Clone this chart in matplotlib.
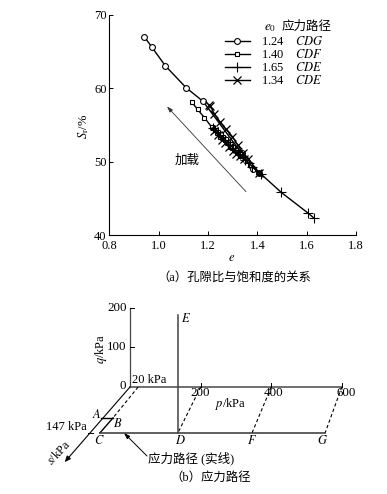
import matplotlib
matplotlib.use("Agg")
import matplotlib.pyplot as plt

plt.rcParams['font.family'] = ['Liberation Serif', 'Noto Sans CJK SC']
plt.rcParams['mathtext.fontset'] = 'stix'
plt.rcParams['axes.linewidth'] = 0.8

W, H = 387, 494

# panel a: void ratio vs saturation
e_cdg = [0.942, 0.972, 1.027, 1.111, 1.18, 1.337, 1.383, 1.407]
s_cdg = [67.0, 65.6, 63.05, 60.07, 58.2, 51.1, 49.0, 48.4]
e_cdf = [1.134, 1.158, 1.185, 1.215, 1.25, 1.29, 1.33, 1.37, 1.407]
s_cdf = [58.1, 57.1, 56.0, 54.7, 53.4, 52.0, 50.8, 49.6, 48.4]
e_165 = [1.63, 1.605, 1.497, 1.415, 1.38, 1.365, 1.35, 1.34, 1.33, 1.32, 1.31, 1.30,
         1.29, 1.28, 1.27, 1.26, 1.25, 1.24, 1.23, 1.22]
s_165 = [42.3, 43.0, 45.8, 48.3, 49.3, 49.8, 50.2, 50.6, 51.0, 51.3, 51.6, 51.9,
         52.3, 52.6, 53.0, 53.3, 53.6, 54.0, 54.3, 54.6]
e_134 = [1.204, 1.21, 1.226, 1.249, 1.273, 1.299, 1.32, 1.343, 1.362, 1.407]
s_134 = [57.7, 57.5, 56.5, 55.4, 54.4, 53.4, 52.3, 51.1, 50.4, 48.5]
e_134b = [1.345, 1.33, 1.315, 1.30, 1.285, 1.27, 1.255, 1.24, 1.225]
s_134b = [50.3, 50.7, 51.0, 51.4, 52.0, 52.5, 53.0, 53.6, 54.2]
e_ticks = [0.8, 1.0, 1.2, 1.4, 1.6, 1.8]
s_ticks = [40, 50, 60, 70]
e_arrow = [1.354, 1.034]
s_arrow = [45.9, 57.5]

# panel b: stress path, p, q, s in kPa
p_ticks = [200, 400, 600]
q_ticks = [100, 200]
s_end = 147
path_p = [28, 28, 28, 249, 459, 666]
path_q = [0, 0, 0, 0, 0, 0]
path_s = [99, 99, 147, 147, 147, 147]
ab_p = [-5, 28]
ab_s = [99, 99]
e_p = 249
e_q = 297


def px(x, y):
    return x / W, 1 - y / H


def label(x, y, s, **kw):
    kw.setdefault('fontsize', 9)
    kw.setdefault('ha', 'center')
    kw.setdefault('va', 'center')
    fig.text(*px(x, y), s, **kw)


def proj(p, q, s):
    return p - 0.771 * s, q - 0.788 * s


fig = plt.figure(figsize=(W / 100, H / 100), dpi=100)

ax = fig.add_axes([109.3 / W, 1 - 235 / H, 246.7 / W, 220.3 / H])
ax.plot(e_cdg, s_cdg, '-o', color='k', lw=1.0, ms=4.2, mfc='white', mew=0.8, label=r'1.24    $\mathit{CDG}$')
ax.plot(e_cdf, s_cdf, '-s', color='k', lw=1.0, ms=3.4, mfc='white', mew=0.8, label=r'1.40    $\mathit{CDF}$')
ax.plot(e_165, s_165, '-+', color='k', lw=1.0, ms=7, mew=0.8, label=r'1.65    $\mathit{CDE}$')
ax.plot(e_134, s_134, '-x', color='k', lw=1.0, ms=5.5, mew=0.9, label=r'1.34    $\mathit{CDE}$')
ax.plot(e_134b, s_134b, 'x', color='k', ms=6, mew=0.9)
ax.set_xlim(0.8, 1.8)
ax.set_ylim(40, 70)
ax.set_xticks(e_ticks, ['%.1f' % v for v in e_ticks])
ax.set_yticks(s_ticks)
ax.tick_params(direction='in', length=3.2, width=0.7, labelsize=9.0)
ax.tick_params(axis='x', pad=3.4)
ax.tick_params(axis='y', pad=2.0)
ax.spines['top'].set_visible(False)
ax.spines['right'].set_visible(False)
ax.annotate('', xy=(e_arrow[1], s_arrow[1]), xytext=(e_arrow[0], s_arrow[0]),
            arrowprops=dict(arrowstyle='-|>,head_length=0.35,head_width=0.12', color='#333333', lw=0.6,
                            shrinkA=0, shrinkB=0))
ax.legend(loc='upper left', bbox_to_anchor=(0.468, 0.907), frameon=False, fontsize=9.0, handlelength=2.0,
          labelspacing=0.0, handletextpad=0.9, borderpad=0, borderaxespad=0)

label(187, 161, '加载', fontsize=9)
label(232, 258, '$e$', fontsize=9)
label(84, 126, r'$S_{\mathrm{r}}$/%', rotation=90, fontsize=9)
label(270, 28, '$e_0$', fontsize=9.4)
label(307, 27, '应力路径', fontsize=9)
label(234, 278, '（a）孔隙比与饱和度的关系', fontsize=8.9)

bx = fig.add_axes([0, 0, 1, 204 / H])
bx.set_xlim(-130 / 0.353, 257 / 0.353)
bx.set_ylim(-107 / 0.397, 97 / 0.397)
bx.axis('off')

# axes of the oblique frame
bx.plot([0, 0], [0, 200], color='#444444', lw=0.9)
for q in q_ticks:
    bx.plot([0, 12], [q, q], color='k', lw=0.7)
bx.plot([0, 600], [0, 0], color='#555555', lw=1.2)
for p in p_ticks:
    bx.plot([p, p], [0, 10], color='k', lw=0.7)

# s axis with arrow head
sx0, sy0 = proj(0, 0, 0)
sx1, sy1 = proj(0, 0, 240)
bx.annotate('', xy=(sx1, sy1), xytext=(sx0, sy0),
            arrowprops=dict(arrowstyle='-|>,head_length=0.35,head_width=0.15', color='k', lw=0.8,
                            shrinkA=0, shrinkB=0))

# dashed lines
xa, ya = proj(23, 0, 0)
xb, yb = proj(28, 0, 99)
bx.plot([xa, xb], [ya, yb], color='k', lw=0.8, ls=(0, (3, 2.2)))
for p, d in zip(p_ticks, [249, 459, 666]):
    xa, ya = proj(p, 0, 0)
    xb, yb = proj(d, 0, 147)
    bx.plot([xa, xb], [ya, yb], color='k', lw=0.8, ls=(0, (3, 2.2)))

xs, ys = zip(*[proj(p, q, s) for p, q, s in zip(path_p, path_q, path_s)])
bx.plot(xs[1:3], ys[1:3], color='k', lw=1.0)
bx.plot(xs[2:], ys[2:], color='#333333', lw=1.1)
xs, ys = zip(*[proj(p, 0, s) for p, s in zip(ab_p, ab_s)])
bx.plot(xs, ys, color='k', lw=1.0)
xa, ya = proj(e_p, 0, s_end)
xb, yb = proj(e_p, e_q, s_end)
bx.plot([xa, xb], [ya, yb], color='#444444', lw=1.1)

xa, ya = proj(-5, 0, s_end)
xb, yb = proj(8, 0, s_end)
bx.plot([xa, xb], [ya, yb], color='k', lw=0.7)

label(117, 308, '200', fontsize=9.4)
label(117, 347, '100', fontsize=9.4)
label(123, 386, '0', fontsize=9.4)
label(149, 380, '20 kPa', fontsize=9)
label(101, 349, r'$q$/kPa', rotation=90, fontsize=9)
label(200, 393, '200', fontsize=9.4)
label(274, 393, '400', fontsize=9.4)
label(346, 393, '600', fontsize=9.4)
label(231, 404, r'$p$/kPa', fontsize=9)
label(66, 427, '147 kPa', fontsize=9)
label(59, 453, r'$s$/kPa', rotation=47, fontsize=9)
label(97, 414, '$A$', fontsize=9)
label(118, 423, '$B$', fontsize=9)
label(99, 440, '$C$', fontsize=9)
label(180, 440, '$D$', fontsize=9)
label(186, 318, '$E$', fontsize=9)
label(252, 440, '$F$', fontsize=9)
label(323, 440, '$G$', fontsize=9)
label(148, 458, '应力路径 (实线)', ha='left', fontsize=9)
label(211, 478, '（b）应力路径', fontsize=8.9)

xa, ya = bx.transData.inverted().transform((147, H - 456))
xb, yb = bx.transData.inverted().transform((124, H - 433))
bx.annotate('', xy=(xb, yb), xytext=(xa, ya),
            arrowprops=dict(arrowstyle='-|>,head_length=0.35,head_width=0.12', color='k', lw=0.7,
                            shrinkA=0, shrinkB=0))

fig.savefig('out.png', dpi=100)
plt.close(fig)
